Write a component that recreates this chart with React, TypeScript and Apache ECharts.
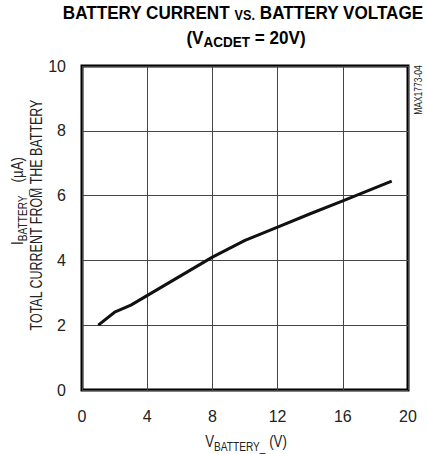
import React, { useEffect, useRef } from "react";
import * as echarts from "echarts";

const vBattery = [1, 2, 3, 8, 10, 12, 14, 16, 19];
const iBattery = [2.0, 2.4, 2.62, 4.1, 4.62, 5.03, 5.44, 5.84, 6.45];
const xTicks = [0, 4, 8, 12, 16, 20];
const yTicks = [0, 2, 4, 6, 8, 10];

const FONT = "'Liberation Sans', Arial, sans-serif";
const NARROW = 0.78;

export default function App() {
  const ref = useRef<HTMLDivElement>(null);
  useEffect(() => {
    if (!ref.current) return;
    const chart = echarts.init(ref.current, null, { renderer: "svg" });
    const mainRich = (size: number, sub: number, fill: string) => ({
      m: { fontSize: size, fontFamily: FONT, fill, verticalAlign: "bottom", lineHeight: size + 2 },
      s: { fontSize: sub, fontFamily: FONT, fill, verticalAlign: "bottom", lineHeight: sub + 1, padding: [0, 0, -3, 0] },
    });
    chart.setOption({
      animation: false,
      backgroundColor: "#fff",
      grid: {
        left: 82,
        right: 19,
        top: 66,
        bottom: 64,
        outerBoundsMode: "none",
        containLabel: false,
        show: true,
        borderColor: "#000",
        borderWidth: 3,
        backgroundColor: "transparent",
      },
      xAxis: {
        type: "value",
        min: xTicks[0],
        max: xTicks[xTicks.length - 1],
        interval: 4,
        axisLine: { show: false },
        axisTick: { show: false },
        axisLabel: { color: "#222", fontSize: 16, fontFamily: FONT, margin: 18 },
        splitLine: { show: true, lineStyle: { color: "#444", width: 1 } },
      },
      yAxis: {
        type: "value",
        min: yTicks[0],
        max: yTicks[yTicks.length - 1],
        interval: 2,
        axisLine: { show: false },
        axisTick: { show: false },
        axisLabel: { color: "#222", fontSize: 16, fontFamily: FONT, margin: 16 },
        splitLine: { show: true, lineStyle: { color: "#444", width: 1 } },
      },
      graphic: [
        {
          type: "text",
          x: 243,
          y: 2,
          scaleX: 0.9,
          style: {
            text: "{b|BATTERY CURRENT }{c|VS.}{b| BATTERY VOLTAGE}",
            align: "center",
            rich: {
              b: { fontSize: 19, fontWeight: "bold", fontFamily: FONT, fill: "#000", verticalAlign: "bottom", lineHeight: 20 },
              c: { fontSize: 14, fontWeight: "bold", fontFamily: FONT, fill: "#000", verticalAlign: "bottom", lineHeight: 20 },
            },
          },
        },
        {
          type: "text",
          x: 246,
          y: 27,
          scaleX: 0.9,
          style: {
            text: "{b|(V}{s|ACDET}{b| = 20V)}",
            align: "center",
            rich: {
              b: { fontSize: 19, fontWeight: "bold", fontFamily: FONT, fill: "#000", verticalAlign: "bottom", lineHeight: 20 },
              s: { fontSize: 15, fontWeight: "bold", fontFamily: FONT, fill: "#000", verticalAlign: "bottom", lineHeight: 20, padding: [0, 0, -2, 0] },
            },
          },
        },
        {
          type: "text",
          x: 246,
          y: 440,
          scaleX: NARROW,
          style: {
            text: "{m|V}{s|BATTERY_}{m| (V)}",
            align: "center",
            verticalAlign: "middle",
            rich: mainRich(17, 13, "#222"),
          },
        },
        {
          type: "text",
          x: 16,
          y: 201,
          rotation: Math.PI / 2,
          scaleX: NARROW,
          style: {
            text: "{m|I}{s|BATTERY_}{m|  (µA)}",
            align: "center",
            verticalAlign: "middle",
            rich: mainRich(17, 13, "#222"),
          },
        },
        {
          type: "text",
          x: 36,
          y: 215,
          rotation: Math.PI / 2,
          scaleX: NARROW,
          style: {
            text: "TOTAL CURRENT FROM THE BATTERY",
            align: "center",
            verticalAlign: "middle",
            fontSize: 16,
            fontFamily: FONT,
            fill: "#222",
          },
        },
        {
          type: "text",
          x: 419,
          y: 90,
          rotation: Math.PI / 2,
          scaleX: 0.85,
          style: {
            text: "MAX1773-04",
            align: "center",
            verticalAlign: "middle",
            fontSize: 10,
            fontFamily: FONT,
            fill: "#222",
          },
        },
      ],
      series: [
        {
          type: "line",
          data: vBattery.map((v, i) => [v, iBattery[i]]),
          showSymbol: false,
          symbol: "none",
          lineStyle: { color: "#111", width: 3 },
        },
      ],
    });
    return () => chart.dispose();
  }, []);
  return (
    <div
      ref={ref}
      style={{ position: "fixed", left: 0, top: 0, width: 427, height: 454 }}
    />
  );
}
